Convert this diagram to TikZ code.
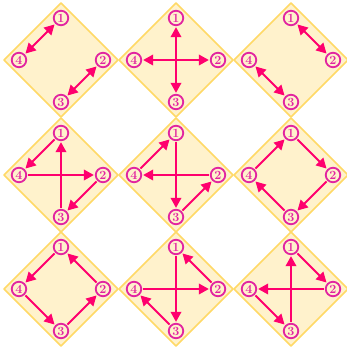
\documentclass[tikz,border=0pt]{standalone}
\usepackage{tikz}
\usetikzlibrary{arrows.meta}
\definecolor{cream}{RGB}{255,242,204}
\definecolor{goldline}{RGB}{255,217,102}
\definecolor{hotpink}{RGB}{255,0,110}
\definecolor{plum1}{RGB}{226,36,160}

\begin{document}
\begin{tikzpicture}[x=1pt,y=-1pt,
  tile/.style={draw=goldline,fill=cream,line width=1.5pt,line join=round},
  num/.style={circle,draw=plum1,text=plum1,line width=1.8pt,minimum size=14.5pt,inner sep=0pt,font=\fontsize{12.5}{12.5}\selectfont\bfseries},
  flow/.style={hotpink,line width=2pt,-{Triangle[length=10pt,width=10.5pt]},shorten >=1pt,shorten <=1pt},
  both/.style={flow,{Triangle[length=10pt,width=10.5pt]}-{Triangle[length=10pt,width=10.5pt]}}]
\useasboundingbox (0,0) rectangle (347,349);
% nine tiles with the four numbered corners
\foreach \r/\cy in {1/60,2/175,3/289}{
  \foreach \c/\cx in {1/61,2/176,3/291}{
    \draw[tile] (\cx,\cy-57) -- (\cx+57,\cy) -- (\cx,\cy+57) -- (\cx-57,\cy) -- cycle;
    \node[num] (t\r\c-1) at (\cx,\cy-42) {1};
    \node[num] (t\r\c-2) at (\cx+42,\cy) {2};
    \node[num] (t\r\c-3) at (\cx,\cy+42) {3};
    \node[num] (t\r\c-4) at (\cx-42,\cy) {4};
  }
}
% first row: swaps
\foreach \k/\a/\b in {11/1/4,11/2/3,12/1/3,12/4/2,13/1/2,13/4/3}
  \draw[both] (t\k-\a) -- (t\k-\b);
% second and third rows: cycles
\foreach \k/\a/\b in {21/1/4,21/4/2,21/2/3,21/3/1,
                      22/4/1,22/1/3,22/3/2,22/2/4,
                      23/1/2,23/2/3,23/3/4,23/4/1,
                      31/1/4,31/4/3,31/3/2,31/2/1,
                      32/1/3,32/3/4,32/4/2,32/2/1,
                      33/1/2,33/2/4,33/4/3,33/3/1}
  \draw[flow] (t\k-\a) -- (t\k-\b);
\end{tikzpicture}
\end{document}
